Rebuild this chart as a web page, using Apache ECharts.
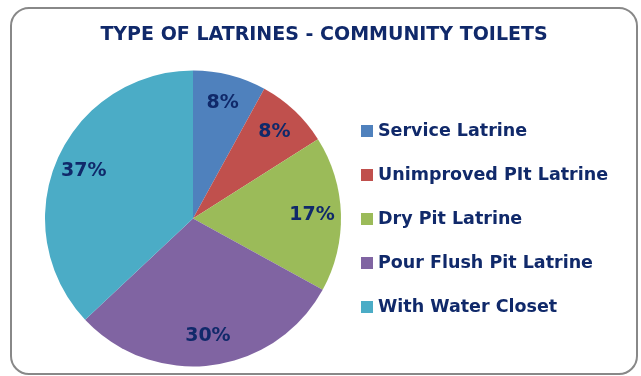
<!DOCTYPE html>
<html>
<head>
<meta charset="utf-8">
<script src="https://cdn.jsdelivr.net/npm/echarts@6/dist/echarts.min.js"></script>
<style>
  html, body { margin: 0; padding: 0; background: #ffffff; }
  #chart { width: 641px; height: 376px; }
</style>
</head>
<body>
<div id="chart"></div>
<script>
// Latrine types used in community toilets, share in percent
const categories = ['Service Latrine', 'Unimproved PIt Latrine', 'Dry Pit Latrine', 'Pour Flush Pit Latrine', 'With Water Closet'];
const shares = [8, 8, 17, 30, 37];
const colors = ['#4F81BD', '#C0504D', '#9BBB59', '#8064A2', '#4BACC6'];
const titleText = 'TYPE OF LATRINES - COMMUNITY TOILETS';

const navy = '#10296A';
const fontFamily = '"DejaVu Sans", sans-serif';

const pieData = categories.map((name, i) => ({ name, value: shares[i] }));

const chart = echarts.init(document.getElementById('chart'), null, { renderer: 'canvas' });

chart.setOption({
  animation: false,
  backgroundColor: '#ffffff',
  color: colors,
  title: {
    text: titleText,
    left: 324,
    top: 26,
    padding: 0,
    textAlign: 'center',
    textStyle: { color: navy, fontFamily, fontWeight: 'bold', fontSize: 19 }
  },
  legend: {
    orient: 'vertical',
    left: 361,
    top: 122,
    padding: 0,
    itemWidth: 12,
    itemHeight: 12,
    itemGap: 26,
    icon: 'rect',
    selectedMode: false,
    data: categories.map((name, i) => ({ name, itemStyle: { color: colors[i] } })),
    textStyle: { color: navy, fontFamily, fontWeight: 'bold', fontSize: 17.5 }
  },
  graphic: [{
    type: 'rect',
    shape: { x: 11, y: 8, width: 626, height: 366, r: 18 },
    style: { fill: 'none', stroke: '#888888', lineWidth: 2 },
    z: 10
  }],
  series: [
    {
      // filled slices
      type: 'pie',
      center: [193, 218.5],
      radius: [0, 148],
      startAngle: 90,
      clockwise: true,
      silent: true,
      label: { show: false },
      labelLine: { show: false },
      itemStyle: { borderWidth: 0 },
      data: pieData
    },
    {
      // transparent ring carrying the percentage labels near the rim
      type: 'pie',
      center: [193, 218.5],
      radius: [84, 148],
      startAngle: 90,
      clockwise: true,
      silent: true,
      itemStyle: { color: 'rgba(0,0,0,0)', borderWidth: 0 },
      label: {
        show: true,
        position: 'inside',
        formatter: p => p.value + '%',
        color: navy,
        fontFamily,
        fontWeight: 'bold',
        fontSize: 19
      },
      labelLine: { show: false },
      data: pieData
    }
  ]
});
</script>
</body>
</html>
